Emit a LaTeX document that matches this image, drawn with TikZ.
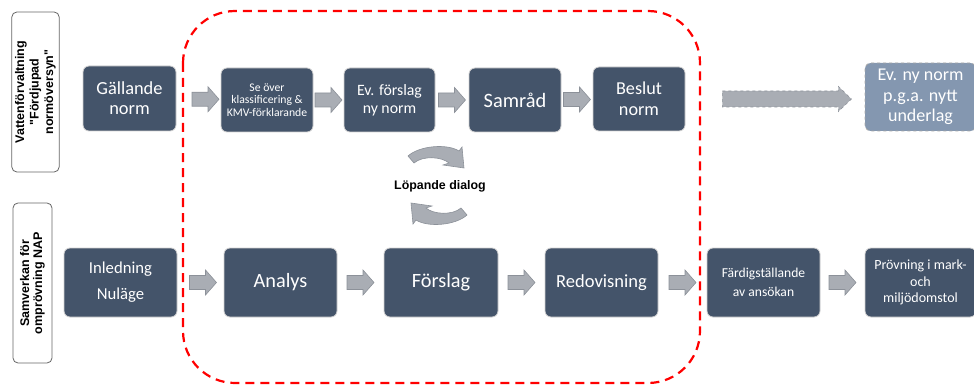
\documentclass[tikz,border=0pt]{standalone}
\usepackage{fontspec}
\setmainfont{Carlito}
\newfontfamily\labelfont{Liberation Sans}
\usepackage{tikz}
\usetikzlibrary{calc}
\definecolor{boxdark}{HTML}{44546A}
\definecolor{boxlight}{HTML}{8497B0}
\definecolor{arrowgray}{HTML}{A9ADB4}
\definecolor{arrowline}{HTML}{8C9199}
\newcommand{\fs}[2]{\fontsize{#1}{#2}\selectfont}
\tikzstyle{normbox} = [rounded corners=6pt, fill=boxdark, draw=gray!35, line width=0.8pt, text=white, align=center, inner sep=2pt]
\tikzstyle{lightbox} = [normbox, fill=boxlight, draw=gray!70, dashed]
\tikzstyle{lanebox} = [rounded corners=5pt, draw=gray!80!black, line width=0.8pt, fill=white, align=center, rotate=90, minimum width=160pt]
\tikzstyle{blockarrow} = [fill=arrowgray, draw=arrowline, line width=0.6pt]
\tikzstyle{dialogframe} = [draw=red, line width=2.2pt, dash pattern=on 9pt off 6pt, rounded corners=52pt]
% block arrow halfway between two boxes, optional shift along x
\newcommand{\flowarrow}[3][0]{%
  \draw[blockarrow, shift={($(#2.east)!0.5!(#3.west)+(#1,0)$)}]
    (-13.5,-7) -- (2.5,-7) -- (2.5,-12.5) -- (13.5,0) -- (2.5,12.5) -- (2.5,7) -- (-13.5,7) -- cycle;}
\tikzset{dialogarc/.pic={
  \draw[blockarrow] (-29.5,-29.5) .. controls (-18,-40) and (10,-42) .. (21.5,-34.5)
    -- (24.5,-38.5) -- (26.5,-17.5) -- (5.5,-20.5) -- (11.5,-22.5)
    .. controls (4,-29) and (-15,-30) .. (-23.5,-22.5) -- cycle;}}

\begin{document}
\begin{tikzpicture}[x=1pt,y=-1pt]
\useasboundingbox (0,0) rectangle (974,385);

% Lane labels:
\node[lanebox, minimum height=45pt, font=\labelfont\bfseries\fs{12.5}{14.5}] (lanetop) at (35.5,92)
  {Vattenförvaltning\\"Fördjupad\\normöversyn"};
\node[lanebox, minimum height=39pt, font=\labelfont\bfseries\fs{12.5}{13}] (lanebottom) at (32.5,283)
  {Samverkan för\\omprövning NAP};

% Upper row:
\node[normbox, minimum width=93pt, minimum height=65pt, font=\fs{18.4}{20}] (gallande) at (129.5,98.5) {Gällande\\norm};
\node[normbox, minimum width=92pt, minimum height=64pt, font=\fs{11.7}{12.5}] (seover) at (267,100) {Se över\\klassificering \&\\KMV-förklarande};
\node[normbox, minimum width=91pt, minimum height=64pt, font=\fs{15.8}{18}] (evforslag) at (389.5,100) {Ev. förslag\\ny norm};
\node[normbox, minimum width=92pt, minimum height=64pt, font=\fs{20.4}{22}] (samrad) at (515,100) {Samråd};
\node[normbox, minimum width=92pt, minimum height=64pt, font=\fs{18.2}{21}] (beslut) at (639,99) {Beslut\\norm};
\node[lightbox, minimum width=111pt, minimum height=68pt, font=\fs{18}{20.5}] (evny) at (920.5,97) {Ev. ny norm\\p.g.a. nytt\\underlag};

\flowarrow[7]{gallande}{seover}
\flowarrow{seover}{evforslag}
\flowarrow{evforslag}{samrad}
\flowarrow{samrad}{beslut}
\draw[blockarrow, dashed, shift={($(beslut.east)+(37,0)$)}]
  (0,-8) -- (116,-8) -- (116,-12.5) -- (129,0) -- (116,12.5) -- (116,8) -- (0,8) -- cycle;

% Running dialog between the rows:
\node[font=\labelfont\bfseries\fs{12.4}{14}] (dialog) at (440,186) {Löpande dialog};
\coordinate (dialogmid) at (437.5,185.5);
\pic at (dialogmid) {dialogarc};
\pic[rotate=180] at (dialogmid) {dialogarc};

% Lower row:
\node[normbox, minimum width=113pt, minimum height=69pt, font=\fs{16.7}{26}] (inledning) at (120.5,282.5) {Inledning\\Nuläge};
\node[normbox, minimum width=113pt, minimum height=69pt, font=\fs{20.3}{22}] (analys) at (280.5,282.5) {Analys};
\node[normbox, minimum width=114pt, minimum height=69pt, font=\fs{20.3}{22}] (forslag) at (441,282.5) {Förslag};
\node[normbox, minimum width=113pt, minimum height=69pt, font=\fs{18.5}{20}] (redovisning) at (601.5,282.5) {Redovisning};
\node[normbox, minimum width=113pt, minimum height=69pt, font=\fs{13.6}{19}] (fardig) at (763.5,282.5) {Färdigställande\\av ansökan};
\node[normbox, minimum width=111pt, minimum height=69pt, font=\fs{14}{16.5}] (provning) at (920.5,282.5) {Prövning i mark-\\och\\miljödomstol};

\flowarrow[2.5]{inledning}{analys}
\flowarrow{analys}{forslag}
\flowarrow{forslag}{redovisning}
\flowarrow{redovisning}{fardig}
\flowarrow{fardig}{provning}

% Frame round the joint work:
\draw[dialogframe] (183,11) rectangle (700,383);

\end{tikzpicture}
\end{document}
